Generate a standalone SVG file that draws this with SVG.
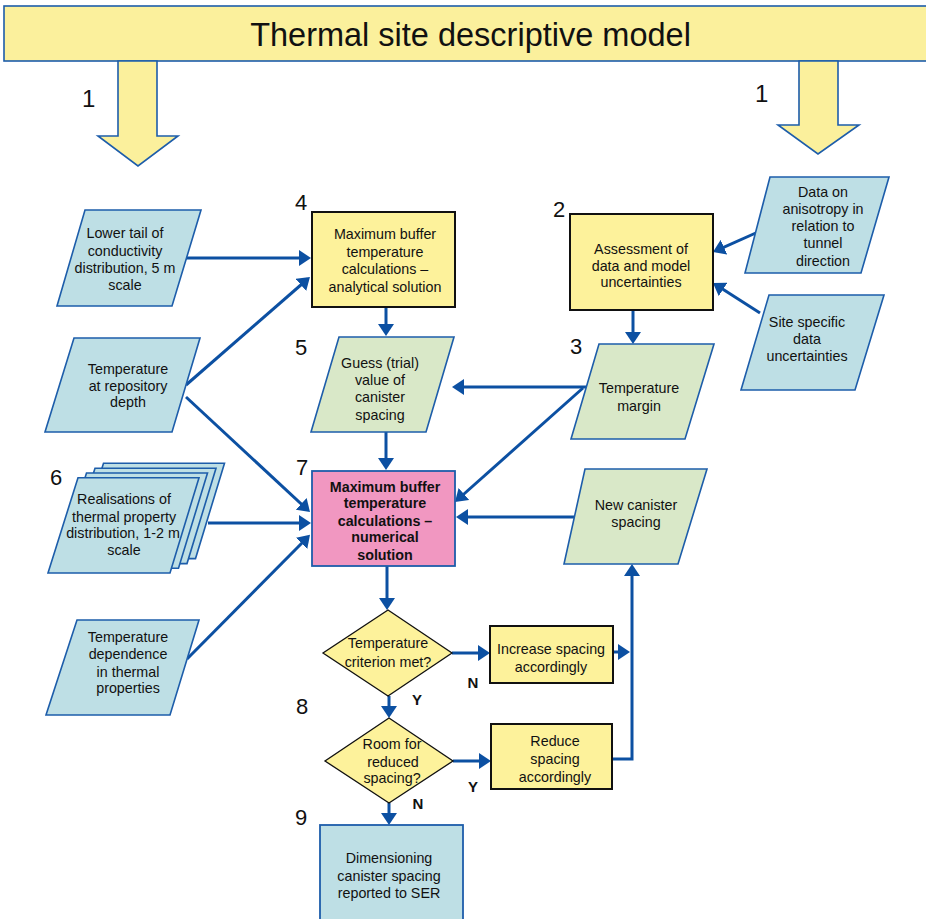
<svg xmlns="http://www.w3.org/2000/svg" width="926" height="919" viewBox="0 0 926 919">
<style>
text{font-family:"Liberation Sans",Arial,sans-serif;fill:#111;}
.t{font-size:14.3px;text-anchor:middle;}
.b{font-size:14.3px;text-anchor:middle;font-weight:bold;}
.n{font-size:22px;}
.yn{font-size:15px;font-weight:bold;text-anchor:middle;}
.in{fill:#BEDFE5;stroke:#1D5DAA;stroke-width:1.6;}
.gr{fill:#D9E8C8;stroke:#1D5DAA;stroke-width:1.6;}
.yb{fill:#FDF29B;stroke:#111;stroke-width:2;}
.dm{fill:#FDF29B;stroke:#111;stroke-width:1.3;}
.ban{fill:#FBF09C;stroke:#1D5DAA;stroke-width:1.6;}
.c{fill:none;stroke:#0C50A2;stroke-width:3;}
.a{marker-end:url(#ah);}
</style>
<defs>
<marker id="ah" viewBox="0 0 12 16" refX="9" refY="8" markerWidth="12" markerHeight="16" markerUnits="userSpaceOnUse" orient="auto">
<path d="M0,0 L12,8 L0,16 z" fill="#0C50A2"/>
</marker>
</defs>

<g id="banner">
<rect class="ban" x="4" y="6" width="930" height="55"/>
<text x="470.5" y="46" style="font-size:32.5px;text-anchor:middle">Thermal site descriptive model</text>
</g>
<g id="arrow1-left">
<polygon class="ban" points="118,61 157,61 157,136 178,136 138,166 98,136 118,136"/>
<text class="n" x="82" y="107" style="font-size:24px">1</text>
</g>
<g id="arrow1-right">
<polygon class="ban" points="799,61 838,61 838,125 859,125 818,154 778,125 799,125"/>
<text class="n" x="755" y="102" style="font-size:24px">1</text>
</g>

<g id="connectors">
<path class="c a" d="M186,258 L308,258"/>
<path class="c a" d="M186,385 L307.7,279"/>
<path class="c a" d="M186,397 L307.8,510"/>
<path class="c a" d="M208,523 L308,523"/>
<path class="c a" d="M187,659 L307.9,537"/>
<path class="c a" d="M386,307 L386,333"/>
<path class="c a" d="M587,387 L455,387"/>
<path class="c a" d="M583,388 L457.2,500"/>
<path class="c a" d="M386,432 L386,467"/>
<path class="c a" d="M578,517 L459,517"/>
<path class="c a" d="M387,566 L387,607"/>
<path class="c a" d="M452,653 L487,653"/>
<path class="c a" d="M613,652 L627,652"/>
<path class="c a" d="M389,696 L389,715"/>
<path class="c a" d="M453,761 L488,761"/>
<path class="c a" d="M612,759 L632,759 L632,567"/>
<path class="c a" d="M389,803 L389,822"/>
<path class="c a" d="M758,232 L715.7,250.8"/>
<path class="c a" d="M760,313 L715.5,284.6"/>
<path class="c a" d="M633,310 L633,341"/>
</g>

<g id="n-lowertail">
<polygon class="in" points="85,210 201,210 172,306 57,306"/>
<text class="t" x="125" y="238">Lower tail of</text>
<text class="t" x="125" y="256">conductivity</text>
<text class="t" x="125" y="273">distribution, 5 m</text>
<text class="t" x="125" y="290">scale</text>
</g>
<g id="n-tempdepth">
<polygon class="in" points="74,338 200,338 172,432 45,432"/>
<text class="t" x="128" y="374">Temperature</text>
<text class="t" x="128" y="391">at repository</text>
<text class="t" x="128" y="407">depth</text>
</g>
<g id="n-realisations">
<polygon class="in" points="103.5,463.3 224.5,463.3 195.5,558.6 73.5,558.6"/>
<polygon class="in" points="95,468.3 216,468.3 187,563.6 65,563.6"/>
<polygon class="in" points="86.5,473 207.5,473 178.5,568.3 56.5,568.3"/>
<polygon class="in" points="78,477.7 199,477.7 170,573 48,573"/>
<text class="t" x="124" y="504">Realisations of</text>
<text class="t" x="124" y="522">thermal property</text>
<text class="t" x="123" y="538">distribution, 1-2 m</text>
<text class="t" x="124" y="555">scale</text>
<text class="n" x="50" y="485">6</text>
</g>
<g id="n-tempdependence">
<polygon class="in" points="77,620 199,620 170,715 46,715"/>
<text class="t" x="128" y="642">Temperature</text>
<text class="t" x="128" y="659">dependence</text>
<text class="t" x="128" y="677">in thermal</text>
<text class="t" x="128" y="693">properties</text>
</g>
<g id="n4">
<rect class="yb" x="312" y="212" width="143" height="95"/>
<text class="t" x="385" y="239">Maximum buffer</text>
<text class="t" x="385" y="257">temperature</text>
<text class="t" x="385" y="274">calculations –</text>
<text class="t" x="385" y="292">analytical solution</text>
<text class="n" x="295" y="210">4</text>
</g>
<g id="n5">
<polygon class="gr" points="339,337 454,337 426,432 311,432"/>
<text class="t" x="380" y="368">Guess (trial)</text>
<text class="t" x="380" y="385">value of</text>
<text class="t" x="380" y="402">canister</text>
<text class="t" x="380" y="420">spacing</text>
<text class="n" x="295" y="355">5</text>
</g>
<g id="n2">
<rect class="yb" x="570" y="214" width="143" height="96"/>
<text class="t" x="641" y="254">Assessment of</text>
<text class="t" x="641" y="271">data and model</text>
<text class="t" x="641" y="287">uncertainties</text>
<text class="n" x="553" y="217">2</text>
</g>
<g id="n-anisotropy">
<polygon class="in" points="770,177 889,177 861,273 745,273"/>
<text class="t" x="823" y="197">Data on</text>
<text class="t" x="823" y="214">anisotropy in</text>
<text class="t" x="823" y="231">relation to</text>
<text class="t" x="823" y="248">tunnel</text>
<text class="t" x="823" y="266">direction</text>
</g>
<g id="n-sitespecific">
<polygon class="in" points="769,295 884,295 855,390 741,390"/>
<text class="t" x="807" y="327">Site specific</text>
<text class="t" x="807" y="344">data</text>
<text class="t" x="807" y="361">uncertainties</text>
</g>
<g id="n3">
<polygon class="gr" points="599,344 714,344 685,439 571,439"/>
<text class="t" x="639" y="393">Temperature</text>
<text class="t" x="639" y="411">margin</text>
<text class="n" x="570" y="354">3</text>
</g>
<g id="n7">
<rect x="312" y="471" width="143" height="95" fill="#F197C1" stroke="#1D5DAA" stroke-width="1.8"/>
<text class="b" x="385" y="492">Maximum buffer</text>
<text class="b" x="385" y="508">temperature</text>
<text class="b" x="385" y="526">calculations –</text>
<text class="b" x="385" y="542">numerical</text>
<text class="b" x="385" y="560">solution</text>
<text class="n" x="296" y="475">7</text>
</g>
<g id="n-newspacing">
<polygon class="gr" points="585,469 707,469 678,564 564,564"/>
<text class="t" x="636" y="510">New canister</text>
<text class="t" x="636" y="527">spacing</text>
</g>
<g id="n-criterion">
<polygon class="dm" points="388,610 452,653 388,696 323,653"/>
<text class="t" x="388" y="648">Temperature</text>
<text class="t" x="388" y="667">criterion met?</text>
<text class="yn" x="473" y="688">N</text>
<text class="yn" x="417" y="705">Y</text>
</g>
<g id="n-increase">
<rect class="yb" x="490" y="626" width="123" height="57"/>
<text class="t" x="551" y="654">Increase spacing</text>
<text class="t" x="551" y="672">accordingly</text>
</g>
<g id="n8">
<polygon class="dm" points="389,718 453,761 389,803 325,761"/>
<text class="t" x="392" y="749">Room for</text>
<text class="t" x="393" y="767">reduced</text>
<text class="t" x="392" y="783">spacing?</text>
<text class="yn" x="473" y="792">Y</text>
<text class="yn" x="418" y="809">N</text>
<text class="n" x="296" y="714">8</text>
</g>
<g id="n-reduce">
<rect class="yb" x="491" y="724" width="121" height="65"/>
<text class="t" x="555" y="746">Reduce</text>
<text class="t" x="555" y="764">spacing</text>
<text class="t" x="555" y="782">accordingly</text>
</g>
<g id="n9">
<rect x="320" y="825" width="143" height="104" fill="#BEDFE5" stroke="#1D5DAA" stroke-width="1.8"/>
<text class="t" x="389" y="863">Dimensioning</text>
<text class="t" x="389" y="881">canister spacing</text>
<text class="t" x="389" y="898">reported to SER</text>
<text class="n" x="295" y="825">9</text>
</g>
</svg>
